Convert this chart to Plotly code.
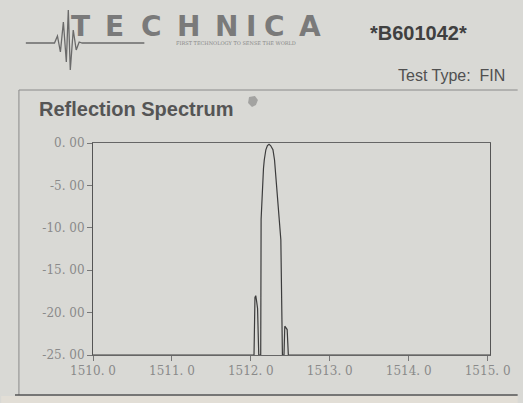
import plotly.graph_objects as go

# ---- data ----
wavelength_nm = [1510.0, 1512.04, 1512.052, 1512.062, 1512.072, 1512.085, 1512.10, 1512.125,
                 1512.13, 1512.14, 1512.16, 1512.17, 1512.19, 1512.21, 1512.23, 1512.25,
                 1512.28, 1512.30, 1512.34, 1512.38, 1512.40, 1512.42, 1512.43, 1512.445,
                 1512.46, 1512.475, 1515.03]
reflection_db = [-25, -25, -18.2, -18.0, -18.6, -19.5, -25, -25,
                 -9.0, -6.5, -3.0, -2.0, -0.8, -0.3, -0.15, -0.3,
                 -0.8, -2.0, -6.7, -11.4, -25, -25, -21.6, -21.8,
                 -22.0, -25, -25]

x_ticks = [1510, 1511, 1512, 1513, 1514, 1515]
x_ticklabels = ["1510. 0", "1511. 0", "1512. 0", "1513. 0", "1514. 0", "1515. 0"]
y_ticks = [0, -5, -10, -15, -20, -25]
y_ticklabels = ["0. 00", "-5. 00", "-10. 00", "-15. 00", "-20. 00", "-25. 00"]

# ---- geometry helpers (pixel -> paper) ----
W, H = 523, 403
L, R, T, B = 93, 28, 143, 48
PW, PH = W - L - R, H - T - B


def px(x):
    return (x - L) / PW


def py(y):
    return (H - B - y) / PH


BG = "#d9d9d5"
TICKGRAY = "#8a8a8a"

fig = go.Figure()
fig.add_trace(go.Scatter(x=wavelength_nm, y=reflection_db, mode="lines",
                         line=dict(color="#3c3c3c", width=1.2), hoverinfo="skip",
                         showlegend=False))

fig.update_xaxes(range=[1510, 1515.03], tickvals=x_ticks, ticktext=x_ticklabels,
                 ticks="outside", ticklen=5, tickcolor="#777", showgrid=False,
                 zeroline=False, showline=True, linecolor="#666", linewidth=1, mirror=True,
                 tickfont=dict(family="DejaVu Serif", size=12, color=TICKGRAY))
fig.update_yaxes(range=[-25, 0], tickvals=y_ticks, ticktext=y_ticklabels,
                 ticks="outside", ticklen=5, tickcolor="#777", showgrid=False,
                 zeroline=False, showline=True, linecolor="#555", linewidth=1, mirror=True,
                 tickfont=dict(family="DejaVu Serif", size=12, color=TICKGRAY))

shapes = []
# outer frame of the printed sheet
shapes.append(dict(type="line", xref="paper", yref="paper", x0=px(18), x1=px(523),
                   y0=py(90), y1=py(90), line=dict(color="#8a8a8a", width=1)))
shapes.append(dict(type="line", xref="paper", yref="paper", x0=px(18), x1=px(18),
                   y0=py(90), y1=py(395), line=dict(color="#8a8a8a", width=1)))
shapes.append(dict(type="line", xref="paper", yref="paper", x0=px(14), x1=px(523),
                   y0=py(395), y1=py(395), line=dict(color="#555", width=1.5)))
# paper strip below
shapes.append(dict(type="rect", xref="paper", yref="paper", x0=px(0), x1=px(523),
                   y0=py(396), y1=py(403), fillcolor="#e2ded6", line=dict(width=0),
                   layer="below"))

# heartbeat logo
hb = [(25, 43), (54, 43), (57, 36), (60, 52), (63, 22), (66, 62), (68, 10), (70, 70),
      (73, 30), (76, 50), (79, 42), (82, 43), (145, 43)]
path = "M " + " L ".join(f"{px(x):.5f},{py(y):.5f}" for x, y in hb)
shapes.append(dict(type="path", xref="paper", yref="paper", path=path,
                   line=dict(color="#6a6a6a", width=1.3)))
# smudge
smudge = [(251, 97), (257, 96), (260, 100), (258, 105), (254, 107), (250, 103)]
spath = "M " + " L ".join(f"{px(x):.5f},{py(y):.5f}" for x, y in smudge) + " Z"
shapes.append(dict(type="path", xref="paper", yref="paper", path=spath,
                   fillcolor="#7f7f7f", line=dict(width=0), opacity=0.6))

annotations = []
letters = [("T", 80), ("E", 115), ("C", 152), ("H", 190), ("N", 228), ("I", 253),
           ("C", 277), ("A", 313)]
for ch, cx in letters:
    annotations.append(dict(text="<b>" + ch + "</b>", x=px(cx), y=py(27), xref="paper",
                            yref="paper", showarrow=False, xanchor="center",
                            yanchor="middle",
                            font=dict(family="DejaVu Sans", size=28, color="#7a7a7a")))
annotations.append(dict(text="FIRST TECHNOLOGY TO SENSE THE WORLD", x=px(238), y=py(43),
                        xref="paper", yref="paper", showarrow=False, xanchor="center",
                        yanchor="middle", font=dict(family="DejaVu Serif", size=5,
                                                    color="#888")))
annotations.append(dict(text="<b>*B601042*</b>", x=px(371), y=py(33), xref="paper",
                        yref="paper", showarrow=False, xanchor="left", yanchor="middle",
                        font=dict(family="Liberation Sans", size=20, color="#404040")))
annotations.append(dict(text="Test Type:  FIN", x=px(512), y=py(75), xref="paper",
                        yref="paper", showarrow=False, xanchor="right", yanchor="middle",
                        font=dict(family="Liberation Sans", size=16, color="#505050")))
annotations.append(dict(text="<b>Reflection Spectrum</b>", x=px(36), y=py(109),
                        xref="paper", yref="paper", showarrow=False, xanchor="left",
                        yanchor="middle",
                        font=dict(family="Liberation Sans", size=20, color="#555")))

fig.update_layout(width=W, height=H, margin=dict(l=L, r=R, t=T, b=B),
                  paper_bgcolor=BG, plot_bgcolor=BG, shapes=shapes,
                  annotations=annotations, showlegend=False)

fig.write_html("out.html", config={"displayModeBar": False},
               post_script="document.body.style.margin='0';"
                           "document.body.style.background='" + BG + "';")
